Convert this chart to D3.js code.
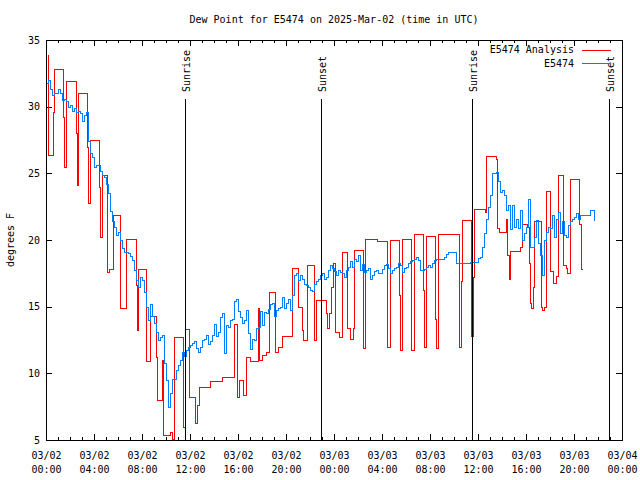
<!DOCTYPE html>
<html><head><meta charset="utf-8">
<script src="https://cdn.jsdelivr.net/npm/d3@7"></script>
<style>body{margin:0;background:#fff}svg{display:block}</style>
</head><body>
<script>
const chartTitle = "Dew Point for E5474 on 2025-Mar-02 (time in UTC)";
const yAxisLabel = "degrees F";
const seriesNames = ["E5474 Analysis", "E5474"];
const seriesColors = ["#ff0000", "#0080ff"];
const startTime = "2025-03-02T00:00:00Z";
const endTime = "2025-03-04T00:00:00Z";
const yDomain = [5, 35];
const yTicks = [5, 10, 15, 20, 25, 30, 35];

// Observations (E5474), one value every 10 minutes from startTime
const obsIntervalMinutes = 10;
const obsValues = [
  31.8,32.0,31.3,30.9,31.0,31.0,
  31.3,31.0,30.5,30.6,30.4,30.0,
  30.1,29.7,29.9,29.6,29.7,29.5,
  28.9,29.4,29.6,27.4,26.5,26.2,
  25.5,25.6,25.6,25.2,24.9,24.75,
  24.2,23.5,22.2,21.4,21.0,20.4,
  20.6,20.0,19.4,19.1,19.1,19.0,
  18.8,18.5,17.75,17.0,16.5,17.2,
  17.0,16.1,15.0,14.0,15.2,14.3,
  13.75,13.1,12.5,12.75,12.9,10.8,
  9.5,7.5,8.5,9.6,9.6,10.25,
  10.6,11.0,11.6,11.3,11.75,12.0,
  12.1,12.3,12.4,11.9,11.6,12.0,
  12.5,12.6,12.9,12.2,12.4,12.9,
  13.7,12.8,13.1,14.2,14.5,11.5,
  13.6,13.5,14.0,14.1,15.4,15.6,
  14.7,14.2,13.8,14.0,14.75,13.0,
  11.8,12.6,12.5,13.4,13.5,14.7,
  13.6,14.6,14.5,14.8,15.2,15.3,
  14.3,14.75,14.9,15.0,15.75,14.9,
  15.25,15.6,14.75,15.9,17.4,17.5,
  17.0,17.4,17.1,16.7,16.6,16.5,
  16.25,16.2,16.7,16.9,17.1,17.4,
  17.5,17.1,17.25,17.75,18.1,17.9,
  17.7,17.4,17.75,17.6,17.5,17.2,
  17.75,18.0,18.4,18.0,18.6,18.45,
  18.9,17.75,18.2,17.6,17.75,17.9,
  17.1,17.4,17.7,17.75,17.5,17.5,
  17.8,18.1,18.2,17.9,17.5,17.75,
  17.9,18.0,18.25,18.1,17.6,17.9,
  18.0,18.25,18.4,18.5,18.55,18.7,
  18.5,17.75,17.75,17.8,18.0,18.1,
  18.0,18.25,18.5,18.6,18.6,18.6,
  18.6,18.7,18.95,19.1,19.1,19.1,
  19.1,18.25,18.25,18.25,18.25,18.3,
  18.3,18.3,18.35,18.35,18.35,18.35,
  18.65,18.7,19.5,20.5,21.6,22.5,
  23.4,25.0,25.0,25.1,24.4,23.6,
  23.75,23.4,22.25,22.6,20.8,22.6,
  21.0,21.6,20.9,22.25,20.0,20.5,
  21.0,23.1,19.5,19.5,20.25,21.5,
  19.75,18.9,17.4,20.0,20.6,21.0,
  20.9,21.9,20.25,21.6,22.1,20.5,
  21.4,20.4,20.25,21.1,21.4,21.6,
  21.75,22.0,21.6,21.9,21.9,21.9,
  21.9,21.9,22.25,22.25,21.5
];

// Analysis (E5474 Analysis): change points, hours after startTime
const analysisHours = [
  0.08,0.17,0.61,0.69,1.44,1.53,1.64,2.47,2.56,2.67,3.44,3.53,3.64,4.44,4.53,4.64,
  5.1,5.25,5.6,6.14,6.64,7.47,7.56,7.67,8.3,8.64,9.14,9.22,9.64,9.75,10.33,10.5,10.64,
  11.44,11.58,11.94,12.45,12.55,12.72,13.69,14.64,15.64,15.9,16.08,16.44,16.67,17.03,
  17.64,17.75,18.0,18.33,18.6,19.1,19.33,19.7,20.5,20.97,21.3,21.45,21.72,22.3,22.5,
  23.3,23.42,23.6,23.75,23.9,24.05,24.4,24.67,25.06,25.3,25.55,25.7,26.4,26.45,26.6,
  27.6,28.4,28.45,28.7,29.44,29.5,29.67,30.4,30.45,30.64,31.44,31.5,31.67,32.4,32.47,
  32.64,34.44,34.55,34.67,35.44,35.55,35.64,36.55,36.64,37.47,37.6,37.78,38.3,38.45,
  38.55,38.67,39.5,39.64,40.1,40.28,40.33,40.45,40.6,40.7,41.22,41.3,41.5,41.64,42.0,
  42.28,42.5,42.64,43.1,43.3,43.45,43.67,44.44,44.56,44.64
];
const analysisValues = [
  33.9,26.4,29.6,32.8,29.2,25.5,31.9,28.0,24.1,31.0,27.0,22.8,27.5,24.0,20.2,24.9,
  17.6,17.8,21.9,14.9,20.05,16.6,13.25,17.8,10.9,14.3,11.2,8.0,11.0,5.4,5.6,5.1,12.7,
  6.0,13.3,8.2,6.3,7.6,9.0,9.4,9.7,13.7,8.25,9.5,8.4,11.25,10.9,
  14.9,11.0,11.4,11.6,16.1,11.6,12.0,12.8,17.9,14.95,13.25,12.5,18.1,12.5,15.5,
  14.5,13.4,14.5,16.5,18.25,13.1,12.75,19.1,13.4,12.6,13.4,19.25,15.75,11.9,20.05,
  19.95,16.0,12.0,20.0,15.9,11.75,20.1,16.0,11.75,20.45,16.25,12.0,20.3,14.05,11.9,
  20.45,12.0,16.9,21.5,12.8,17.25,22.3,22.1,26.3,26.05,20.9,20.6,21.6,18.9,
  17.1,19.2,19.45,21.2,21.0,18.25,15.25,14.9,16.5,21.4,15.0,14.75,15.0,23.7,17.7,
  16.75,17.3,24.9,18.1,17.9,17.5,24.6,21.2,17.8,17.8
];

const sunEventHours = [11.58, 22.92, 35.5, 46.92];
const sunEventLabels = ["Sunrise", "Sunset", "Sunrise", "Sunset"];

// ---------- drawing ----------
const W = 640, H = 480;
const L = 46, R = 622, T = 40, B = 440;
const t0 = new Date(startTime), t1 = new Date(endTime);
const hourToDate = h => new Date(t0.getTime() + h * 3600e3);

const obsData = obsValues.map((v, i) => ({ t: new Date(t0.getTime() + i * obsIntervalMinutes * 60e3), v }));
const anaData = analysisHours.map((h, i) => ({ t: hourToDate(h), v: analysisValues[i] }));

const x = d3.scaleUtc().domain([t0, t1]).range([L, R]);
const y = d3.scaleLinear().domain(yDomain).range([B, T]);

const svg = d3.select("body").append("svg").attr("width", W).attr("height", H)
  .style("font-family", "'DejaVu Sans Mono', 'Liberation Mono', monospace")
  .style("font-size", "10px");

svg.append("rect").attr("width", W).attr("height", H).attr("fill", "#fff");

const fmtDay = d3.utcFormat("%m/%d"), fmtHM = d3.utcFormat("%H:%M");

function styleAxis(g) {
  g.select(".domain").remove();
  g.selectAll(".tick line").attr("stroke", "#000").attr("shape-rendering", "crispEdges");
  g.selectAll("text").attr("fill", "#000").style("font-family", "'DejaVu Sans Mono', 'Liberation Mono', monospace").style("font-size", "10px");
}

// minor x ticks (hourly), bottom and top
svg.append("g").attr("transform", `translate(0,${B})`)
  .call(d3.axisBottom(x).ticks(d3.utcHour.every(1)).tickSize(-3).tickSizeOuter(0).tickFormat(""))
  .call(styleAxis);
svg.append("g").attr("transform", `translate(0,${T})`)
  .call(d3.axisTop(x).ticks(d3.utcHour.every(1)).tickSize(-3).tickSizeOuter(0).tickFormat(""))
  .call(styleAxis);

// major x ticks with two-line labels
const gx = svg.append("g").attr("transform", `translate(0,${B})`)
  .call(d3.axisBottom(x).ticks(d3.utcHour.every(4)).tickSize(-6).tickSizeOuter(0).tickFormat(fmtDay))
  .call(styleAxis);
gx.selectAll(".tick text").each(function (d) {
  const t = d3.select(this);
  t.text(null).attr("y", null).attr("dy", null);
  t.append("tspan").attr("x", 0).attr("y", 19).text(fmtDay(d));
  t.append("tspan").attr("x", 0).attr("y", 33).text(fmtHM(d));
});
svg.append("g").attr("transform", `translate(0,${T})`)
  .call(d3.axisTop(x).ticks(d3.utcHour.every(4)).tickSize(-6).tickSizeOuter(0).tickFormat(""))
  .call(styleAxis);

// y axes
svg.append("g").attr("transform", `translate(${L},0)`)
  .call(d3.axisLeft(y).tickValues(yTicks).tickSize(-6).tickPadding(6).tickSizeOuter(0))
  .call(styleAxis);
svg.append("g").attr("transform", `translate(${R},0)`)
  .call(d3.axisRight(y).tickValues(yTicks).tickSize(-6).tickSizeOuter(0).tickFormat(""))
  .call(styleAxis);

// clip
svg.append("clipPath").attr("id", "clip").append("rect")
  .attr("x", L).attr("y", T).attr("width", R - L + 1).attr("height", B - T + 1);

const snap = v => Math.round(v) + 0.5;
const line = d3.line().x(d => snap(x(d.t))).y(d => snap(y(d.v))).curve(d3.curveStepAfter);

const plot = svg.append("g").attr("clip-path", "url(#clip)");

// sunrise / sunset markers
const sun = svg.append("g");
sunEventHours.forEach((h, i) => {
  const sx = snap(x(hourToDate(h)));
  sun.append("line").attr("x1", sx).attr("x2", sx).attr("y1", 99).attr("y2", B)
    .attr("stroke", "#000").attr("stroke-width", 1).attr("shape-rendering", "crispEdges");
  sun.append("text").attr("transform", `translate(${sx + 4},92) rotate(-90)`)
    .attr("text-anchor", "start").attr("fill", "#000").text(sunEventLabels[i]);
});

plot.append("path").datum(anaData).attr("d", line)
  .attr("fill", "none").attr("stroke", seriesColors[0]).attr("stroke-width", 1)
  .attr("shape-rendering", "crispEdges");
plot.append("path").datum(obsData).attr("d", line)
  .attr("fill", "none").attr("stroke", seriesColors[1]).attr("stroke-width", 1)
  .attr("shape-rendering", "crispEdges");

// frame
svg.append("rect").attr("x", L + 0.5).attr("y", T + 0.5).attr("width", R - L).attr("height", B - T)
  .attr("fill", "none").attr("stroke", "#000").attr("stroke-width", 1).attr("shape-rendering", "crispEdges");

// title
svg.append("text").attr("x", (L + R) / 2).attr("y", 23).attr("text-anchor", "middle")
  .attr("fill", "#000").text(chartTitle);

// y label
svg.append("text").attr("transform", `translate(14,${(T + B) / 2}) rotate(-90)`)
  .attr("text-anchor", "middle").attr("fill", "#000").text(yAxisLabel);

// legend
const leg = svg.append("g");
seriesNames.forEach((name, i) => {
  const ly = 49.5 + i * 13.5;
  leg.append("text").attr("x", 574).attr("y", ly + 3.5).attr("text-anchor", "end")
    .attr("fill", "#000").text(name);
  leg.append("line").attr("x1", 582).attr("x2", 611).attr("y1", Math.round(ly) + 0.5).attr("y2", Math.round(ly) + 0.5)
    .attr("stroke", seriesColors[i]).attr("stroke-width", 1).attr("shape-rendering", "crispEdges");
});
</script>
</body></html>
